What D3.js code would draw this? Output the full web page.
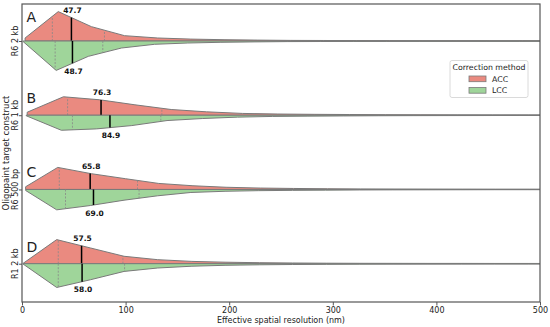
<!DOCTYPE html>
<html>
<head>
<meta charset="utf-8">
<script src="https://cdn.jsdelivr.net/npm/d3@7"></script>
<style>
  body { margin: 0; background: #fff; }
  svg { display: block; font-family: "DejaVu Sans", sans-serif; }
</style>
</head>
<body>
<svg id="chart" width="550" height="327"></svg>
<script>
// categories (top to bottom)
const constructs = ["R6 2 kb", "R6 1 kb", "R6 500 bp", "R1 2 kb"];
const panelLetters = ["A", "B", "C", "D"];
const methods = ["ACC", "LCC"];
const xTicks = [0, 100, 200, 300, 400, 500];

// density outline (nm grid / arbitrary density units)
const accGrid = [
    [3, 35, 67, 99, 131, 163, 195, 227, 259, 291, 323, 355, 387, 419, 451, 483, 515],
    [5, 40, 75, 109, 144, 178, 213, 247, 282, 316, 351, 385, 420, 454, 489, 523],
    [3.5, 34.5, 67, 100, 132, 165, 197, 230, 262, 295, 327, 360, 392, 425, 457, 490, 522],
    [1, 33.5, 66, 98.5, 131, 164, 196, 229, 261, 294, 326, 359, 391, 424, 456, 489, 521]
];
const accDensity = [
    [3, 29.3, 14.3, 5.3, 3, 1.9, 1.3, 0.9, 0.6, 0.5, 0.4, 0.35, 0.3, 0.3, 0.25, 0.25, 0.2],
    [3, 18.4, 15.4, 10.4, 5.7, 3.4, 1.8, 1.2, 0.9, 0.7, 0.5, 0.4, 0.35, 0.3, 0.25, 0.2],
    [2.7, 22, 15.7, 10.7, 6, 3.7, 2.2, 1.4, 1, 0.7, 0.5, 0.4, 0.35, 0.3, 0.25, 0.25, 0.2],
    [0.3, 24, 15.7, 7.4, 4, 2.3, 1.5, 1, 0.7, 0.5, 0.4, 0.35, 0.3, 0.3, 0.25, 0.25, 0.2]
];
const lccGrid = [
    [1, 33, 64, 96, 128, 160, 192, 224, 256, 288, 320, 352, 384, 416, 448, 480, 512],
    [4, 38, 72, 106, 140, 174, 208, 242, 276, 310, 344, 378, 412, 446, 480, 514],
    [3.5, 33.5, 66, 98.5, 131, 163, 196, 228, 261, 293, 326, 358, 391, 423, 456, 488, 521],
    [1, 33.5, 66, 98.5, 131, 164, 196, 229, 261, 294, 326, 359, 391, 424, 456, 489, 521]
];
const lccDensity = [
    [0.5, 29.3, 15.3, 7, 3.3, 2, 1.3, 0.9, 0.6, 0.5, 0.4, 0.35, 0.3, 0.3, 0.25, 0.25, 0.2],
    [0.5, 15, 13.6, 10.3, 5.3, 3.3, 1.9, 1.2, 0.9, 0.7, 0.5, 0.4, 0.35, 0.3, 0.25, 0.2],
    [1, 20.3, 16, 10.7, 6.3, 3, 1.8, 1.2, 0.9, 0.7, 0.5, 0.4, 0.35, 0.3, 0.25, 0.25, 0.2],
    [0.3, 23.7, 16, 7.7, 4.3, 2.5, 1.6, 1.1, 0.8, 0.6, 0.45, 0.4, 0.35, 0.3, 0.25, 0.25, 0.2]
];
const accMedian = [47.7, 76.3, 65.8, 57.5];
const lccMedian = [48.7, 84.9, 69.0, 58.0];
const accQuartiles = [[29.3, 79.6], [44, 135], [36, 111.5], [35, 97.4]];
const lccQuartiles = [[32, 78], [48.7, 134], [42, 113], [35, 99]];

const colors = { ACC: "#ea8a80", LCC: "#9fd59a" };
const edge = "#7a7a7a";

var svg = d3.select("#chart");
var margin = { top: 4, right: 10, bottom: 25, left: 22 };
var width = 550, height = 327;
var plotBottom = height - margin.bottom;

var x = d3.scaleLinear()
    .domain([0, 500])
    .range([margin.left, width - margin.right]);
var y = d3.scalePoint()
    .domain(constructs)
    .range([41, 263.7]);
var w = d3.scaleLinear()
    .domain([0, 37])
    .range([0, y.step() / 2]);

svg.append("defs").append("clipPath").attr("id", "plot-clip")
    .append("rect")
    .attr("x", margin.left)
    .attr("y", margin.top)
    .attr("width", width - margin.right - margin.left)
    .attr("height", plotBottom - margin.top);

function densityAt(grid, dens, v) {
    var i = d3.bisectRight(grid, v) - 1;
    if (i < 0) return dens[0];
    if (i >= grid.length - 1) return dens[dens.length - 1];
    var t = (v - grid[i]) / (grid[i + 1] - grid[i]);
    return dens[i] + t * (dens[i + 1] - dens[i]);
}

var line = d3.line();
var plot = svg.append("g").attr("clip-path", "url(#plot-clip)");

constructs.forEach(function(c, i) {
    var cy = y(c);
    var halves = [
        { m: "ACC", grid: accGrid[i], dens: accDensity[i], med: accMedian[i], q: accQuartiles[i], sign: -1 },
        { m: "LCC", grid: lccGrid[i], dens: lccDensity[i], med: lccMedian[i], q: lccQuartiles[i], sign: 1 }
    ];
    halves.forEach(function(h) {
        var pts = h.grid.map(function(g, k) { return [x(g), cy + h.sign * w(h.dens[k])]; });
        pts.push([x(h.grid[h.grid.length - 1]), cy]);
        pts.push([x(h.grid[0]), cy]);
        plot.append("path")
            .attr("d", line(pts) + "Z")
            .attr("fill", colors[h.m])
            .attr("stroke", edge)
            .attr("stroke-width", 1)
            .attr("stroke-linejoin", "round");

        h.q.forEach(function(qv) {
            plot.append("line")
                .attr("x1", x(qv)).attr("x2", x(qv))
                .attr("y1", cy)
                .attr("y2", cy + h.sign * w(densityAt(h.grid, h.dens, qv)))
                .attr("stroke", "#888")
                .attr("stroke-width", 0.8)
                .attr("stroke-dasharray", "2,1.5");
        });

        var end = cy + h.sign * w(densityAt(h.grid, h.dens, h.med));
        plot.append("line")
            .attr("x1", x(h.med)).attr("x2", x(h.med))
            .attr("y1", cy).attr("y2", end)
            .attr("stroke", "#000")
            .attr("stroke-width", 1.5);

        svg.append("text")
            .attr("x", x(h.med) + 1)
            .attr("y", h.sign < 0 ? end - 4.5 : end + 10.5)
            .attr("text-anchor", "middle")
            .attr("font-size", 7.5)
            .attr("font-weight", "bold")
            .attr("fill", "#111")
            .text(h.med.toFixed(1));
    });
});

// panel letters
var letterDy = [-19.5, -12.5, -12, -12];
constructs.forEach(function(c, i) {
    svg.append("text")
        .attr("x", 26.5)
        .attr("y", y(c) + letterDy[i])
        .attr("font-size", 14)
        .attr("fill", "#222")
        .text(panelLetters[i]);
});

// frame
svg.append("rect")
    .attr("x", margin.left)
    .attr("y", margin.top)
    .attr("width", width - margin.right - margin.left)
    .attr("height", plotBottom - margin.top)
    .attr("fill", "none")
    .attr("stroke", "#555")
    .attr("stroke-width", 1.2);

// x axis
var xAxis = svg.append("g")
    .attr("transform", "translate(" + [0, plotBottom] + ")")
    .call(d3.axisBottom(x).tickValues(xTicks).tickSize(3.5).tickPadding(2).tickSizeOuter(0));
xAxis.select(".domain").remove();
xAxis.selectAll(".tick line").attr("stroke", "#555");
xAxis.selectAll("text").attr("font-size", 8).attr("font-family", "DejaVu Sans").attr("fill", "#222");

svg.append("text")
    .attr("x", (x.range()[0] + x.range()[1]) / 2)
    .attr("y", 322.5)
    .attr("text-anchor", "middle")
    .attr("font-size", 8)
    .attr("fill", "#222")
    .text("Effective spatial resolution (nm)");

// y axis
var yAxis = svg.append("g")
    .attr("transform", "translate(" + [margin.left, 0] + ")")
    .call(d3.axisLeft(y).tickSize(3).tickSizeOuter(0).tickFormat(""));
yAxis.select(".domain").remove();
yAxis.selectAll(".tick line").attr("stroke", "#555");

constructs.forEach(function(c) {
    svg.append("text")
        .attr("transform", "translate(" + [18, y(c)] + ") rotate(-90)")
        .attr("text-anchor", "middle")
        .attr("font-size", 8)
        .attr("fill", "#222")
        .text(c);
});

svg.append("text")
    .attr("transform", "translate(" + [8.5, (margin.top + plotBottom) / 2] + ") rotate(-90)")
    .attr("text-anchor", "middle")
    .attr("font-size", 8.5)
    .attr("fill", "#222")
    .text("Oligopaint target construct");

// legend
var legend = svg.append("g").attr("transform", "translate(450,60.5)");
legend.append("rect")
    .attr("width", 78).attr("height", 37)
    .attr("rx", 2)
    .attr("fill", "#fff")
    .attr("stroke", "#d0d0d0")
    .attr("stroke-width", 0.8);
legend.append("text")
    .attr("x", 39).attr("y", 9.5)
    .attr("text-anchor", "middle")
    .attr("font-size", 7.8)
    .attr("fill", "#222")
    .text("Correction method");
methods.forEach(function(m, i) {
    legend.append("rect")
        .attr("x", 19).attr("y", 15.5 + i * 11.5)
        .attr("width", 17).attr("height", 5.7)
        .attr("fill", colors[m])
        .attr("stroke", edge)
        .attr("stroke-width", 0.8);
    legend.append("text")
        .attr("x", 42).attr("y", 21 + i * 11.5)
        .attr("font-size", 7.8)
        .attr("fill", "#222")
        .text(m);
});
</script>
</body>
</html>
